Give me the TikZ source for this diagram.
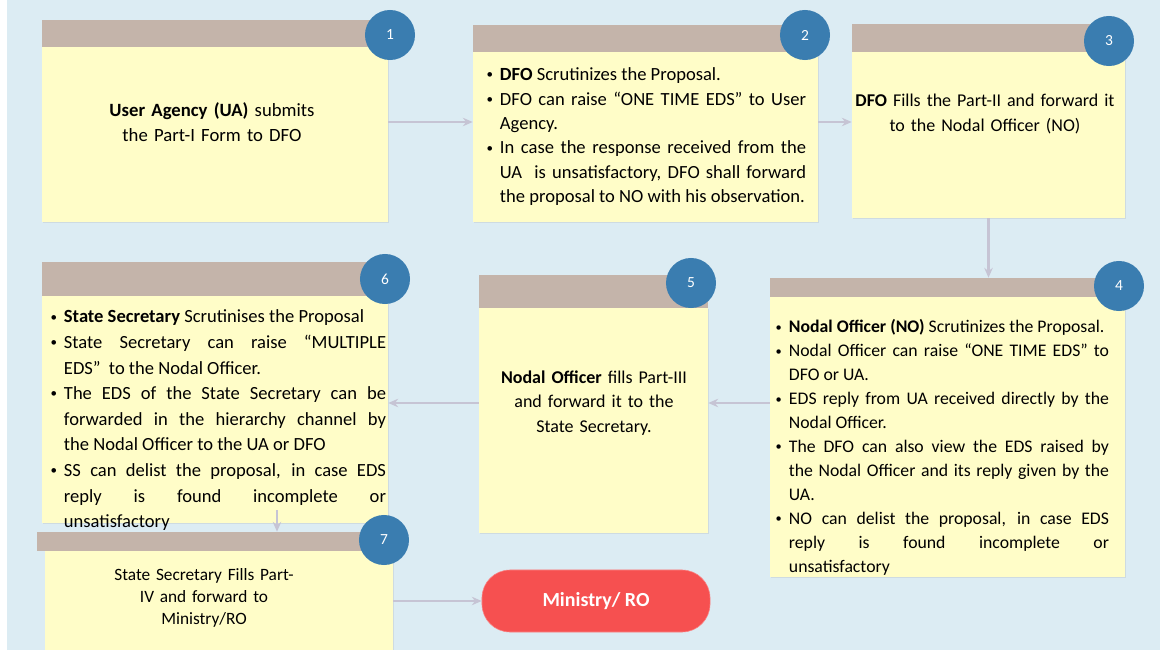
\documentclass[tikz,border=0pt]{standalone}
\usepackage{fontspec}
\setmainfont{Carlito}
\usetikzlibrary{arrows.meta,positioning,fit,calc,shadows}
\definecolor{skyBg}{HTML}{DCECF3}
\definecolor{barTan}{HTML}{C4B4AA}
\definecolor{cardYellow}{HTML}{FFFDC8}
\definecolor{dotBlue}{HTML}{3A7DB0}
\definecolor{flowGrey}{HTML}{C6C4D4}
\definecolor{goalRed}{HTML}{F65050}
\hyphenpenalty=10000
\newcommand{\bul}{\par\noindent\hangindent=0.35cm\hangafter=1\makebox[0.35cm][l]{\hspace{0.5pt}\raisebox{0.2ex}{\scalebox{0.7}{\textbullet}}}}

\begin{document}
\begin{tikzpicture}[x=0.025cm,y=-0.025cm,>={Stealth[length=7pt,width=6pt]},
  card/.style={fill=cardYellow,inner sep=0pt,draw=none,drop shadow={opacity=0.15,shadow xshift=1pt,shadow yshift=-1pt}},
  headbar/.style={fill=barTan,inner sep=0pt,draw=none},
  numdot/.style={circle,fill=dotBlue,text=white,minimum size=1.25cm,inner sep=0pt,font=\fontsize{11}{13}\selectfont},
  txt/.style={text width=#1,align=center,inner sep=0pt,font=\fontsize{12.8}{17.4}\selectfont},
  bullets/.style={text width=#1,align=justify,inner sep=0pt,font=\fontsize{13.2}{17.4}\selectfont},
  goal/.style={rectangle,rounded corners=0.7cm,fill=goalRed,draw=goalRed!70!white,text=white,minimum width=5.7cm,minimum height=1.55cm,font=\fontsize{14.2}{16}\selectfont\bfseries},
  flow/.style={->,draw=flowGrey,line width=1.6pt}]
  \useasboundingbox (0,0) rectangle (1160,650);
  \fill[white] (0,0) rectangle (1160,650);
  \fill[skyBg] (7,0) rectangle (1160,650);

  % step 1
  \node[card, fit={(42,47) (388,222)}] (b1) {};
  \node[headbar, fit={(42,20) (388,47)}] (h1) {};
  \node[numdot] (n1) at (390,35) {1};
  \node[txt=6.5cm, font=\fontsize{13.3}{17.8}\selectfont] (t1) at (212,122) {\textbf{User Agency (UA)} submits\\ the Part-I Form to DFO};

  % step 2
  \node[card, fit={(473,52) (818,222)}] (b2) {};
  \node[headbar, fit={(473,25) (818,52)}] (h2) {};
  \node[numdot] (n2) at (805,35) {2};
  \node[bullets=8cm] (t2) at (646,131) {%
    \bul\textbf{DFO} Scrutinizes the Proposal.
    \bul DFO can raise “ONE TIME EDS” to User\linebreak Agency.
    \bul In case the response received from the\linebreak UA\ \ is unsatisfactory, DFO shall forward\linebreak the proposal to NO with his observation.\par};

  % step 3
  \node[card, fit={(852,52) (1125,218)}] (b3) {};
  \node[headbar, fit={(852,24) (1125,52)}] (h3) {};
  \node[numdot] (n3) at (1109,41) {3};
  \node[txt=6.6cm] (t3) at (985,114) {\textbf{DFO} Fills the Part-II and forward it\\ to the Nodal Officer (NO)};

  % step 4
  \node[card, fit={(770,297) (1125,577)}] (b4) {};
  \node[headbar, fit={(770,278) (1125,297)}] (h4) {};
  \node[numdot] (n4) at (1119,286) {4};
  \node[bullets=8.35cm, font=\fontsize{12.6}{17}\selectfont] (t4) at (942,442) {%
    \bul\textbf{Nodal Officer (NO)} Scrutinizes the Proposal.
    \bul Nodal Officer can raise “ONE TIME EDS” to\linebreak DFO or UA.
    \bul EDS reply from UA received directly by the\linebreak Nodal Officer.
    \bul The DFO can also view the EDS raised by\linebreak the Nodal Officer and its reply given by the\linebreak UA.
    \bul NO can delist the proposal, in case EDS\linebreak reply is found incomplete or\linebreak unsatisfactory\par};

  % step 5
  \node[card, fit={(479,308) (708,533)}] (b5) {};
  \node[headbar, fit={(479,275) (708,308)}] (h5) {};
  \node[numdot] (n5) at (691,283) {5};
  \node[txt=5.3cm] (t5) at (594,403) {\textbf{Nodal Officer} fills Part-III\\ and forward it to the\\ State Secretary.};

  % step 6
  \node[card, fit={(42,296) (388,523)}] (b6) {};
  \node[headbar, fit={(42,262) (388,296)}] (h6) {};
  \node[numdot] (n6) at (385,279) {6};
  \node[bullets=8.4cm, font=\fontsize{13.2}{18.2}\selectfont] (t6) at (218,414) {%
    \bul\textbf{State Secretary} Scrutinises the Proposal
    \bul State Secretary can raise “MULTIPLE\linebreak EDS”\ \ to the Nodal Officer.
    \bul The EDS of the State Secretary can be\linebreak forwarded in the hierarchy channel by\linebreak the Nodal Officer to the UA or DFO
    \bul SS can delist the proposal, in case EDS\linebreak reply is found incomplete or\linebreak unsatisfactory\par};

  % step 7
  \node[card, fit={(45,551) (393,650)}] (b7) {};
  \node[headbar, fit={(37,532) (390,551)}] (h7) {};
  \node[numdot] (n7) at (384,540) {7};
  \node[txt=5cm, font=\fontsize{12.3}{15.4}\selectfont] (t7) at (204,598) {State Secretary Fills Part-\\ IV and forward to\\ Ministry/RO};

  \node[goal] (mo) at (596,601) {Ministry/ RO};

  % connectors
  \draw[flow] (b1.east |- t1.center) -- (b2.west |- t1.center);
  \draw[flow] (b2.east |- t1.center) -- (b3.west |- t1.center);
  \draw[flow] (b3.south) -- (h4.north -| b3.south);
  \draw[flow] (b4.west |- t5.center) -- (b5.east |- t5.center);
  \draw[flow] (b5.west |- t5.center) -- (b6.east |- t5.center);
  \draw[flow] ($(b6.south)+(62,-13)$) -- (h7.north -| {$(b6.south)+(62,0)$});
  \draw[flow] (b7.east |- mo) -- (mo.west);
\end{tikzpicture}
\end{document}
